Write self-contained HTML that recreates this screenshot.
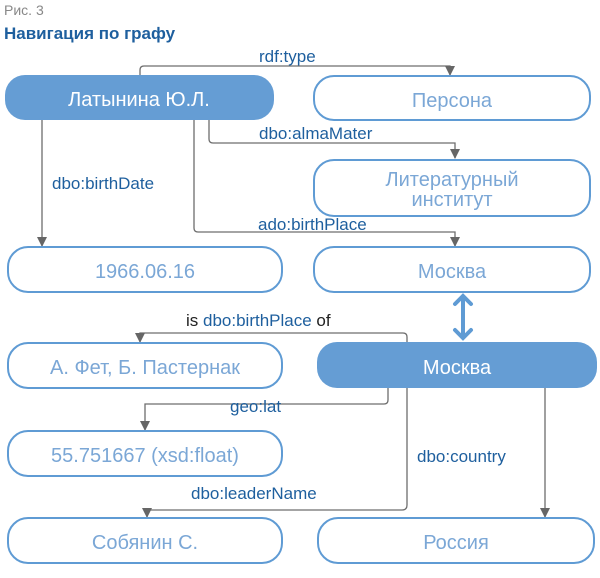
<!DOCTYPE html>
<html><head><meta charset="utf-8"><style>
body{margin:0;background:#fff;width:600px;height:573px;overflow:hidden}
svg text{font-family:"Liberation Sans",sans-serif}
</style></head><body>
<svg width="600" height="573" viewBox="0 0 600 573" xmlns="http://www.w3.org/2000/svg">
<defs>
<marker id="d" markerWidth="10" markerHeight="12" refX="9" refY="5" orient="auto" markerUnits="userSpaceOnUse"><path d="M0,0 L10,5 L0,10 z" fill="#666"/></marker></defs>
<text x="4" y="15" font-size="14" fill="#888">Рис. 3</text>
<text x="4" y="39" font-size="17" font-weight="bold" fill="#1e5f9e">Навигация по графу</text>
<g fill="none" stroke="#6d6d6d" stroke-width="1.3">
<path d="M140,76 V70 Q140,66 144,66 H450 V75" marker-end="url(#d)"/>
<path d="M209,120 V139 Q209,143 213,143 H455 V158" marker-end="url(#d)"/>
<path d="M194,120 V228 Q194,232 198,232 H455 V246" marker-end="url(#d)"/>
<path d="M42,120 V246" marker-end="url(#d)"/>
<path d="M407,342 V337 Q407,333 403,333 H140 V342" marker-end="url(#d)"/>
<path d="M388,388 V400 Q388,404 384,404 H145 V430" marker-end="url(#d)"/>
<path d="M407,388 V505 Q407,510 402,510 H147 V517" marker-end="url(#d)"/>
<path d="M545,388 V517" marker-end="url(#d)"/>
</g>
<g fill="none" stroke="#5f9bd4" stroke-width="2">
<rect x="314" y="76" width="276" height="44" rx="20"/>
<rect x="314" y="160" width="276" height="56" rx="20"/>
<rect x="8" y="247" width="274" height="45" rx="20"/>
<rect x="314" y="247" width="276" height="45" rx="20"/>
<rect x="8" y="343" width="274" height="45" rx="20"/>
<rect x="8" y="431" width="274" height="45" rx="20"/>
<rect x="8" y="518" width="274" height="45" rx="20"/>
<rect x="318" y="518" width="276" height="45" rx="20"/>
</g>
<rect x="5" y="75" width="269" height="45" rx="20" fill="#659dd4"/>
<rect x="317" y="342" width="280" height="46" rx="20" fill="#659dd4"/>
<g stroke="#5f9bd4" stroke-width="4" fill="none" stroke-linecap="round">
<path d="M463,298 V336"/><path d="M455,304 L463,296 L471,304"/><path d="M455,330 L463,338 L471,330"/>
</g>
<g font-size="20" text-anchor="middle">
<text x="139" y="106" fill="#fff">Латынина Ю.Л.</text>
<text x="452" y="107" fill="#7ba7d6">Персона</text>
<text x="452" y="186" fill="#7ba7d6">Литературный</text>
<text x="452" y="206" fill="#7ba7d6">институт</text>
<text x="145" y="278" fill="#7ba7d6">1966.06.16</text>
<text x="452" y="278" fill="#7ba7d6">Москва</text>
<text x="145" y="374" fill="#7ba7d6">А. Фет, Б. Пастернак</text>
<text x="457" y="374" fill="#fff">Москва</text>
<text x="145" y="462" fill="#7ba7d6">55.751667 (xsd:float)</text>
<text x="145" y="549" fill="#7ba7d6">Собянин С.</text>
<text x="456" y="549" fill="#7ba7d6">Россия</text>
</g>
<g font-size="17" fill="#1e5f9e">
<text x="259" y="62">rdf:type</text>
<text x="259" y="139">dbo:almaMater</text>
<text x="52" y="189">dbo:birthDate</text>
<text x="258" y="230">ado:birthPlace</text>
<text x="186" y="326"><tspan fill="#222">is </tspan>dbo:birthPlace<tspan fill="#222"> of</tspan></text>
<text x="230" y="412">geo:lat</text>
<text x="417" y="462">dbo:country</text>
<text x="191" y="499">dbo:leaderName</text>
</g>
</svg>
</body></html>
